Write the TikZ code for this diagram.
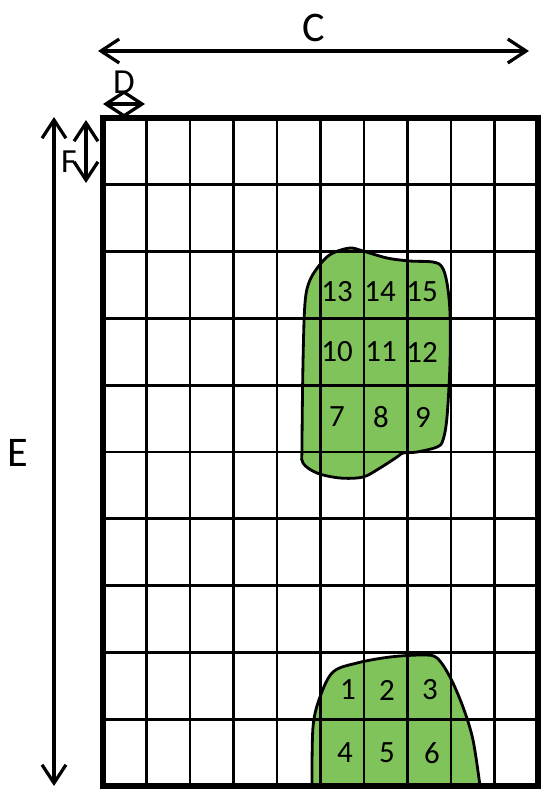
\documentclass[tikz,border=0pt]{standalone}
\usepackage{fontspec}
\setmainfont{Carlito}
\usetikzlibrary{arrows.meta}
\definecolor{leaf}{HTML}{80C35A}

\begin{document}
\begin{tikzpicture}[x=0.025cm,y=-0.025cm,
    gridline/.style={line width=2pt},
    border/.style={line width=3.6pt},
    patch/.style={fill=leaf,draw=black,line width=2pt},
    dimarrow/.style={line width=2.3pt,{Straight Barb[length=13pt,width=17pt]}-{Straight Barb[length=13pt,width=17pt]}},
    num/.style={font=\fontsize{22}{22}\selectfont},
    dimlabel/.style={font=\fontsize{30}{30}\selectfont}]
  \useasboundingbox (0,0) rectangle (541,789);
  % green patches
  \draw[patch] plot[smooth cycle,tension=0.55] coordinates {(333,253) (350,248) (363,251) (387,258) (410,261) (433,262) (442,267) (447,283) (450,313) (450,363) (447,417) (443,440) (437,447) (417,452) (403,453) (397,457) (380,468) (363,477) (340,478) (317,473) (303,463) (302,447) (303,363) (305,303) (310,280) (322,262)};
  \draw[patch] plot[smooth,tension=0.55] coordinates {(312,786) (313,727) (320,697) (333,672) (357,663) (390,657) (423,655) (437,658) (450,677) (463,707) (473,740) (480,786)} -- cycle;
  % grid
  \foreach \i in {1,...,9}{\draw[gridline] ({103+43.5*\i},118) -- ({103+43.5*\i},786);}
  \foreach \j in {1,...,9}{\draw[gridline] (103,{118+66.8*\j}) -- (538,{118+66.8*\j});}
  \draw[border] (103,118) rectangle (538,786);
  % cell numbers
  \foreach \n/\x/\y in {13/337/292,14/380/292,15/422/292,10/337/352,11/381/352,12/422/352,7/337/417,8/381/417,9/423/417,1/348/690,2/387/690,3/430/690,4/345/753,5/387/753,6/432/753}
    \node[num] (n\n) at (\x,\y) {\n};
  % dimensions
  \coordinate (cL) at (98,51);
  \coordinate (cR) at (529,51);
  \draw[dimarrow] (cL) -- (cR);
  \node[dimlabel] (labC) at (314,28) {C};
  \coordinate (dL) at (103,104);
  \coordinate (dR) at (145,104);
  \draw[dimarrow] (dL) -- (dR);
  \node[font=\fontsize{25}{25}\selectfont] (labD) at (124,82) {D};
  \coordinate (fT) at (86,120);
  \coordinate (fB) at (86,183);
  \draw[dimarrow] (fT) -- (fB);
  \node[font=\fontsize{24}{24}\selectfont] (labF) at (69,162) {F};
  \coordinate (eT) at (54,117);
  \coordinate (eB) at (54,786);
  \draw[dimarrow] (eT) -- (eB);
  \node[dimlabel] (labE) at (18,453) {E};
\end{tikzpicture}
\end{document}
